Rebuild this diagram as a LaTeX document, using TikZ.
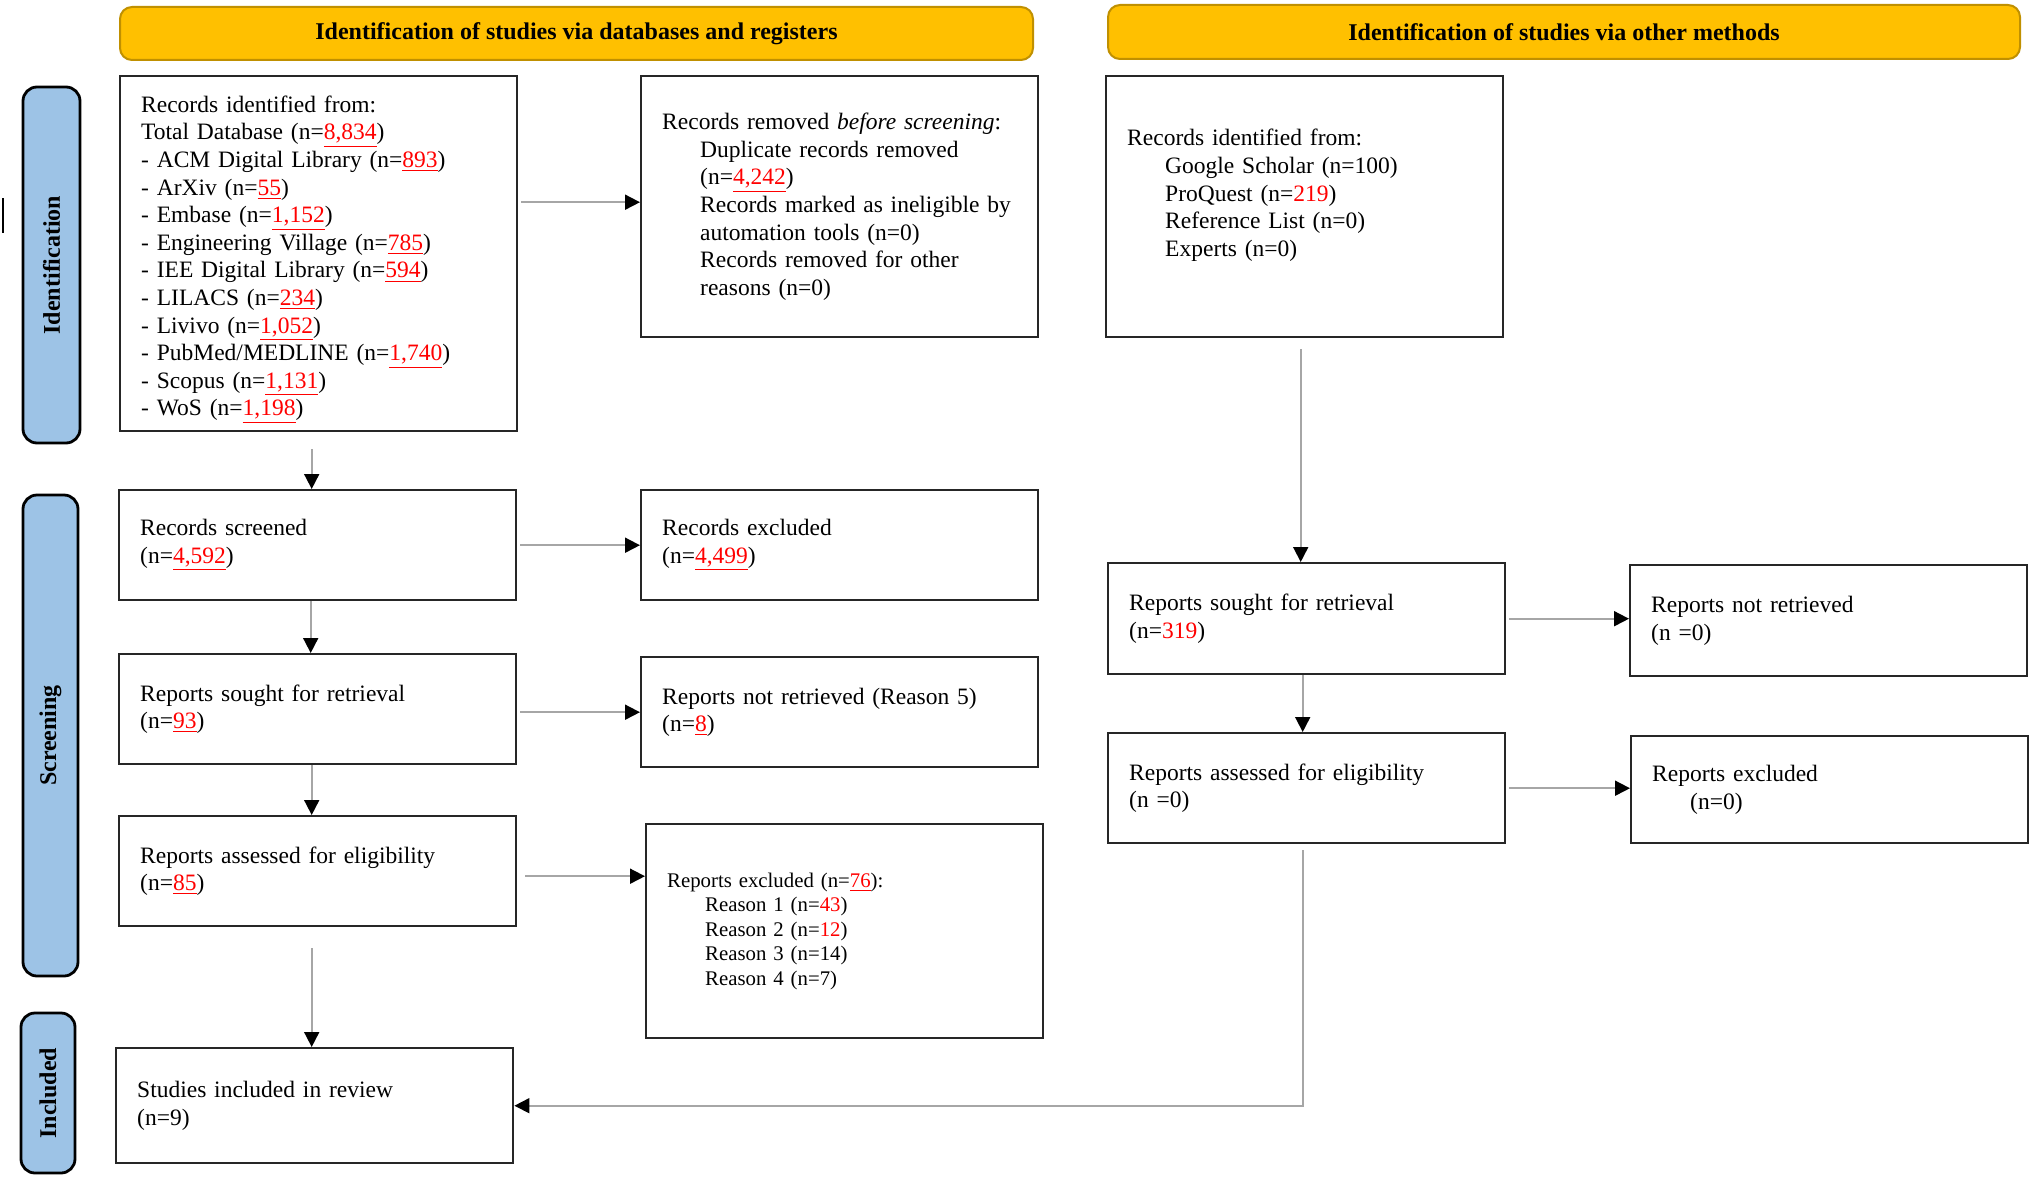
\documentclass[tikz,border=0pt]{standalone}
\usepackage{fontspec}
\setmainfont{Liberation Serif}
\usetikzlibrary{arrows.meta}
\definecolor{hdrfill}{HTML}{FFC000}
\definecolor{hdrline}{HTML}{C09000}
\definecolor{sidefill}{HTML}{9DC3E6}
\definecolor{boxline}{HTML}{262626}
\definecolor{connline}{HTML}{A6A6A6}
\definecolor{numred}{HTML}{FF0000}
\newcommand{\redu}[1]{\textcolor{numred}{\underline{#1}}}
\newcommand{\redn}[1]{\textcolor{numred}{#1}}
\newcommand{\ind}{\hspace*{19pt}}
\begin{document}
\begin{tikzpicture}[x=0.5pt,y=-0.5pt,
  every node/.style={font=\fontsize{11.75}{13.8}\selectfont},
  hdr/.style={draw=hdrline, fill=hdrfill, line width=1pt, rounded corners=6pt,
    font=\fontsize{12}{13.8}\selectfont\bfseries, anchor=north west, inner sep=0pt},
  side/.style={draw=black, fill=sidefill, line width=1.4pt, rounded corners=7pt,
    rotate=90, font=\fontsize{12}{13.8}\selectfont\bfseries, inner sep=0pt},
  pbox/.style={draw=boxline, line width=1.2pt, anchor=north west, minimum width=198.5pt,
    text width=177.5pt, inner xsep=10.5pt, inner ysep=0pt, align=left},
  conn/.style={draw=connline, line width=0.9pt, -{Triangle[length=7.5pt,width=7.5pt,color=black]}},
]
\useasboundingbox (0,0) rectangle (2032,1177);

% headers
\node[hdr, minimum width=456.5pt, minimum height=26.5pt] (hdrL) at (119,6) {Identification of studies via databases and registers};
\node[hdr, minimum width=456pt, minimum height=27pt] (hdrR) at (1107,4) {Identification of studies via other methods};

% side labels
\node[side, minimum width=178pt, minimum height=28.5pt] (sideId) at (51.5,265) {Identification};
\node[side, minimum width=240.5pt, minimum height=27.5pt] (sideSc) at (50.5,735.5) {Screening};
\node[side, minimum width=80pt, minimum height=27pt] (sideIn) at (48,1093) {Included};

% left column
\node[pbox, minimum height=177.5pt] (ident) at (119,75) {Records identified from:\\
Total Database (n=\redu{8,834})\\
- ACM Digital Library (n=\redu{893})\\
- ArXiv (n=\redu{55})\\
- Embase (n=\redu{1,152})\\
- Engineering Village (n=\redu{785})\\
- IEE Digital Library (n=\redu{594})\\
- LILACS (n=\redu{234})\\
- Livivo (n=\redu{1,052})\\
- PubMed/MEDLINE (n=\redu{1,740})\\
- Scopus (n=\redu{1,131})\\
- WoS (n=\redu{1,198})\\[-16pt]~};

\node[pbox, minimum height=130.5pt] (removed) at (640,75) {\mbox{Records removed \textit{before screening}:}\\
\ind\mbox{Duplicate records removed}\\
\ind (n=\redu{4,242})\\
\ind\mbox{Records marked as ineligible by}\\
\ind\mbox{automation tools (n=0)}\\
\ind\mbox{Records removed for other}\\
\ind reasons (n=0)};

\node[pbox, minimum height=55pt] (screened) at (118,489) {Records screened\\ (n=\redu{4,592})};
\node[pbox, minimum height=55pt] (excluded) at (640,489) {Records excluded\\ (n=\redu{4,499})};
\node[pbox, minimum height=55pt] (sought) at (118,653) {Reports sought for retrieval\\ (n=\redu{93})};
\node[pbox, minimum height=55pt] (notret) at (640,656) {\mbox{Reports not retrieved (Reason 5)}\\ (n=\redu{8})};
\node[pbox, minimum height=55pt] (assessed) at (118,815) {Reports assessed for eligibility\\ (n=\redu{85})};
\node[pbox, minimum height=107pt, font=\fontsize{10.4}{12.3}\selectfont] (excl76) at (645,823) {Reports excluded (n=\redu{76}):\\
\ind Reason 1 (n=\redn{43})\\
\ind Reason 2 (n=\redn{12})\\
\ind Reason 3 (n=14)\\
\ind Reason 4 (n=7)};
\node[pbox, minimum height=57.5pt] (included) at (115,1047) {Studies included in review\\ (n=9)};

% right column
\node[pbox, minimum height=130.5pt] (otherId) at (1105,75) {Records identified from:\\
\ind Google Scholar (n=100)\\
\ind ProQuest (n=\redn{219})\\
\ind Reference List (n=0)\\
\ind Experts (n=0)\\ ~};
\node[pbox, minimum height=55.5pt] (sought2) at (1107,562) {Reports sought for retrieval\\ (n=\redn{319})};
\node[pbox, minimum height=55.5pt] (notret2) at (1629,564) {Reports not retrieved\\ (n =0)};
\node[pbox, minimum height=55pt] (assessed2) at (1107,732) {Reports assessed for eligibility\\ (n =0)};
\node[pbox, minimum height=53.5pt] (excl2) at (1630,735) {Reports excluded\\ \ind (n=0)};

% helper points for the vertical connectors
\coordinate (vA) at ([xshift=-3.5pt]ident.south);
\coordinate (vB) at ([xshift=-3.5pt]screened.south);
\coordinate (vC) at ([xshift=-3pt]sought.south);
\coordinate (vD) at ([xshift=-3pt]assessed.south);
\coordinate (vE) at ([xshift=-2pt]otherId.south);
\coordinate (vF) at ([xshift=-2pt]sought2.south);
\coordinate (vG) at ([xshift=-2pt]assessed2.south);
\coordinate (hA) at ([yshift=2.25pt]removed.west);
\coordinate (hB) at ([yshift=-2.5pt]assessed.east);

% connectors
\draw[conn, shorten <=1.5pt] (hA -| ident.east) -- (hA);
\draw[conn, shorten <=8.5pt] (vA) -- (vA |- screened.north);
\draw[conn, shorten <=1.5pt] (screened.east) -- (screened.east -| excluded.west);
\draw[conn] (vB) -- (vB |- sought.north);
\draw[conn, shorten <=1.5pt] (notret.west -| sought.east) -- (notret.west);
\draw[conn] (vC) -- (vC |- assessed.north);
\draw[conn, shorten <=4pt] (hB) -- (hB -| excl76.west);
\draw[conn, shorten <=10.5pt] (vD) -- (vD |- included.north);
\draw[conn, shorten <=5.5pt] (vE) -- (vE |- sought2.north);
\draw[conn, shorten <=1.5pt] (sought2.east) -- (sought2.east -| notret2.west);
\draw[conn] (vF) -- (vF |- assessed2.north);
\draw[conn, shorten <=1.5pt] (assessed2.east) -- (assessed2.east -| excl2.west);
\draw[conn, shorten <=3pt] (vG) |- (included.east);

% stray mark at left edge
\draw[line width=0.8pt] (3,198) -- (3,233);
\end{tikzpicture}
\end{document}
